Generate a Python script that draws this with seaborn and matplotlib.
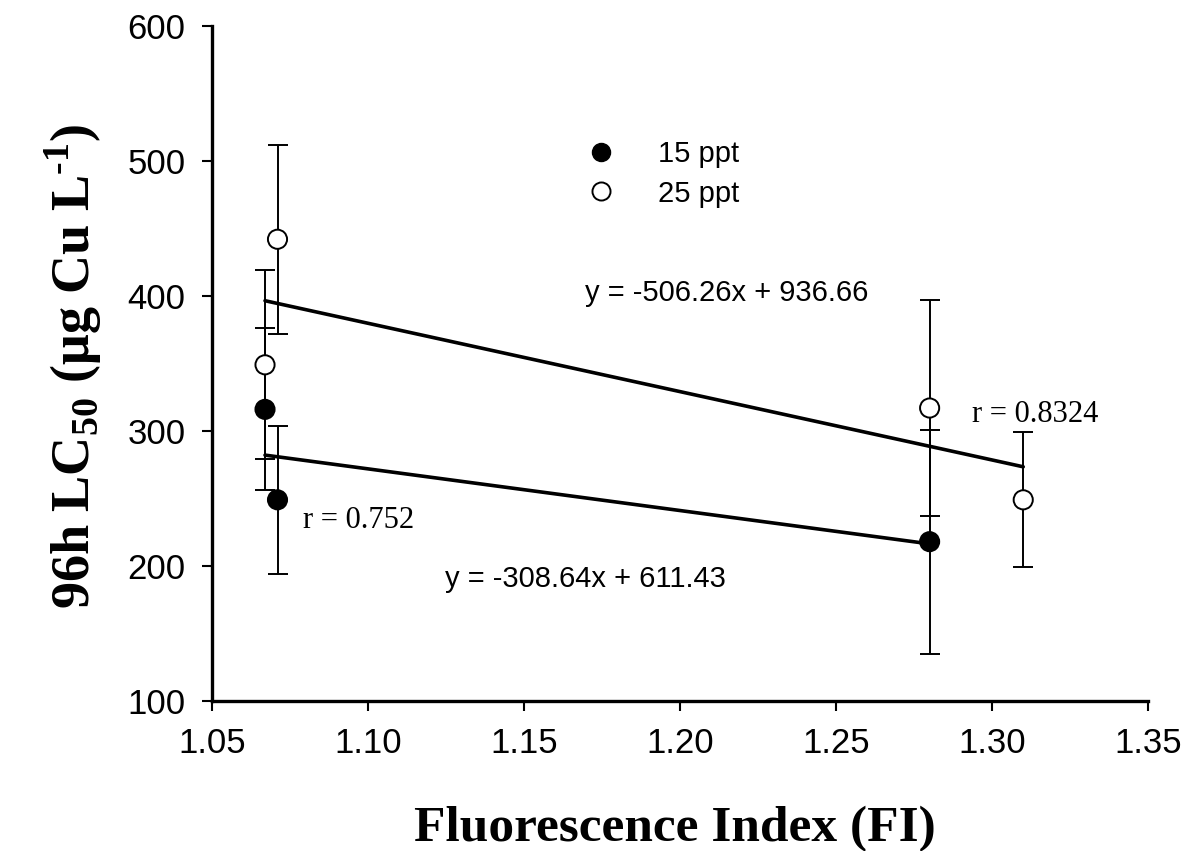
import numpy as np
import pandas as pd
import seaborn as sns
import matplotlib.pyplot as plt
from matplotlib.ticker import FormatStrFormatter
from matplotlib.lines import Line2D

# 96h LC50 vs fluorescence index, two salinities
fi_15 = [1.067, 1.071, 1.28]
lc50_15 = [316, 249, 218]
err_15 = [60, 55, 83]

fi_25 = [1.067, 1.071, 1.28, 1.31]
lc50_25 = [349, 442, 317, 249]
err_25 = [70, 70, 80, 50]

# linear fits as printed on the chart
fit_15 = (-308.64, 611.43)
fit_25 = (-506.26, 936.66)
r_15 = 0.752
r_25 = 0.8324

sns.set_theme(style="ticks")
plt.rcParams["font.family"] = ["Liberation Sans", "DejaVu Sans"]
plt.rcParams["text.color"] = "black"
plt.rcParams["axes.labelcolor"] = "black"
plt.rcParams["mathtext.fontset"] = "custom"
plt.rcParams["mathtext.rm"] = "Liberation Serif:bold"
plt.rcParams["mathtext.bf"] = "Liberation Serif:bold"

df = pd.concat([
    pd.DataFrame({"fi": fi_15, "lc50": lc50_15, "err": err_15, "sal": "15 ppt"}),
    pd.DataFrame({"fi": fi_25, "lc50": lc50_25, "err": err_25, "sal": "25 ppt"}),
])

fig = plt.figure(figsize=(12.01, 8.51), dpi=100)
ax = fig.add_axes([0.1765, 0.1763, 0.7794, 0.7932])

# regression lines, drawn over the range of each series
for fi, (m, b) in [(fi_15, fit_15), (fi_25, fit_25)]:
    xs = np.array([min(fi), max(fi)])
    sns.lineplot(x=xs, y=m * xs + b, ax=ax, color="black", lw=2.6, zorder=2)

# error bars
ax.errorbar(df["fi"], df["lc50"], yerr=df["err"], fmt="none", ecolor="black",
            elinewidth=1.4, capsize=7.5, capthick=1.4, zorder=1)

# markers
sns.scatterplot(data=df, x="fi", y="lc50", hue="sal", palette={"15 ppt": "black", "25 ppt": "white"},
                s=190, edgecolor="black", linewidth=1.4, legend=False, ax=ax, zorder=3)

handles = [
    Line2D([], [], ls="none", marker="o", ms=13, mfc="black", mec="black", label="15 ppt"),
    Line2D([], [], ls="none", marker="o", ms=13, mfc="white", mec="black", mew=1.4, label="25 ppt"),
]
ax.legend(handles=handles, loc="upper left", bbox_to_anchor=(0.356, 0.87), frameon=False,
          fontsize=21, handletextpad=0.95, labelspacing=0.4)

# annotations
ax.text(1.1696, 402, "y = -506.26x + 936.66", fontsize=21, va="center", ha="left")
ax.text(1.1247, 190, "y = -308.64x + 611.43", fontsize=21, va="center", ha="left")
ax.text(1.2936, 312, f"r = {r_25}", fontsize=22, va="center", ha="left", family="Liberation Serif")
ax.text(1.0792, 234, f"r = {r_15}", fontsize=22, va="center", ha="left", family="Liberation Serif")

ax.set_xlim(1.05, 1.35)
ax.set_ylim(100, 600)
ax.set_xticks(np.arange(1.05, 1.351, 0.05))
ax.set_yticks(range(100, 601, 100))
ax.xaxis.set_major_formatter(FormatStrFormatter("%.2f"))
ax.tick_params(labelsize=25, width=1.5, length=7, pad=12, direction="out",
               color="black", labelcolor="black")

ax.set_xlabel("Fluorescence Index (FI)", family="Liberation Serif", fontweight="bold", fontsize=37)
ax.set_ylabel(r"96h LC$_{50}$ ($\mathregular{\mu}$g Cu L$^{\text{-}1}$)", family="Liberation Serif",
              fontweight="bold", fontsize=39)
ax.xaxis.set_label_coords(0.4947, -0.155)
ax.yaxis.set_label_coords(-0.115, 0.496)

sns.despine(ax=ax)
for side in ["left", "bottom"]:
    ax.spines[side].set_linewidth(2.4)
    ax.spines[side].set_color("black")

fig.savefig("out.png", dpi=100)
